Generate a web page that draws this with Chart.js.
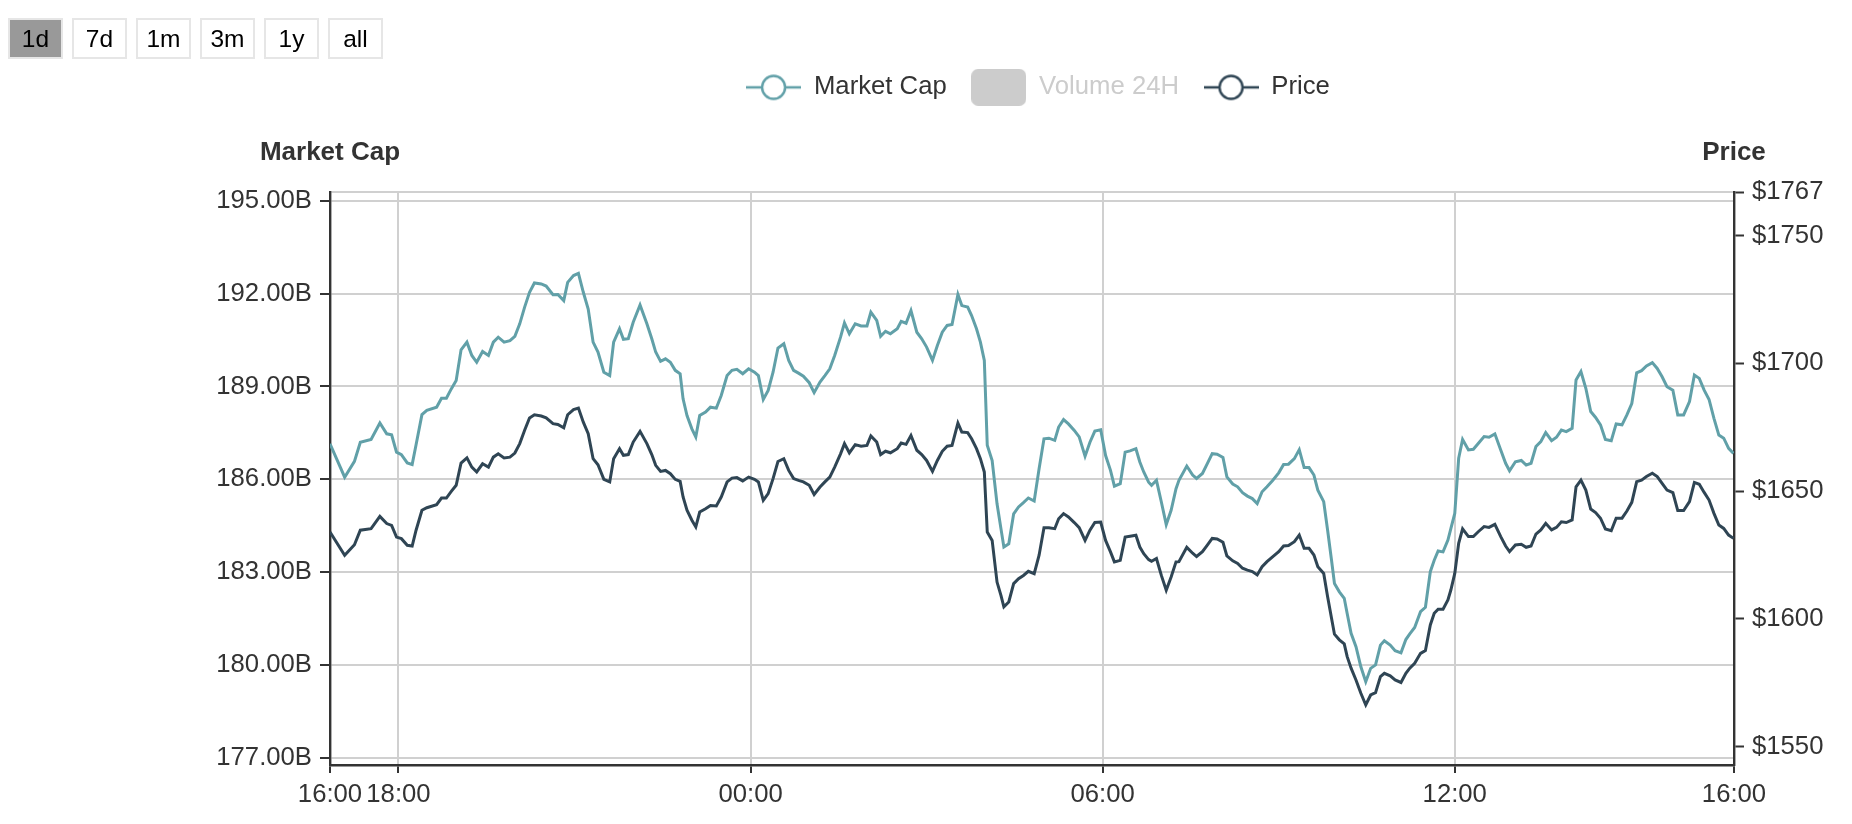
<!DOCTYPE html>
<html>
<head>
<meta charset="utf-8">
<title>Market Cap / Price - 1d</title>
<script src="https://cdn.jsdelivr.net/npm/chart.js@4"></script>
<style>
  body { margin: 0; background: #fff; }
  #wrap { position: relative; width: 1852px; height: 824px; }
  #ranges { position: absolute; left: 8px; top: 18px; display: flex; gap: 9px; z-index: 2; }
  #ranges button {
    box-sizing: border-box; width: 55px; height: 41px; padding: 0;
    border: 2px solid #e6e6e6; background: #fff; color: #000;
    font: 24.5px "Liberation Sans", Arial, sans-serif; cursor: pointer;
  }
  #ranges button.active { background: #999; }
</style>
</head>
<body>
<div id="wrap">
  <div id="ranges">
    <button class="active">1d</button><button>7d</button><button>1m</button><button>3m</button><button>1y</button><button>all</button>
  </div>
  <canvas id="chart" width="1852" height="824"></canvas>
</div>
<script>
// ----- data (minutes after 16:00, market cap in billions, price in USD) -----

const minutes = [
  50, 65, 75, 81, 92, 101, 108, 113, 118, 123, 129, 134, 138, 144, 149, 159, 164, 169, 174, 179,
  184, 190, 195, 200, 206, 212, 217, 222, 228, 234, 239, 244, 249, 254, 259, 266, 271, 278, 283, 289,
  293, 299, 304, 309, 314, 319, 324, 330, 336,
  340, 346, 350, 355, 360, 367, 374, 379, 383, 388, 393, 398, 403, 408, 411, 415, 420, 424, 428, 434,
  439, 445, 450, 456, 461, 466, 472, 478, 484, 488, 493, 498, 503, 508, 514, 519, 524, 529, 534, 540,
  545, 551, 556, 561, 566, 572, 576, 581, 587, 593, 599, 603, 609, 613, 618, 623,
  630, 634, 639, 644, 650, 655, 660, 666, 671, 676, 681, 686, 692, 696, 702, 706, 711, 715, 719, 722,
  727, 732, 736, 739, 744, 749, 754, 759, 764, 770, 775, 780, 785, 791, 795, 800, 805, 811, 816, 822,
  827, 832, 838, 843, 848, 852, 858, 863, 868, 874, 878, 882, 887, 890, 895, 900, 905, 910, 915,
  918, 926, 932, 936, 942, 947, 952, 957, 963, 967, 973, 978, 983, 988, 993, 998, 1003, 1008, 1014, 1020,
  1025, 1030, 1036, 1041, 1046, 1051, 1056, 1060, 1066, 1070, 1074, 1077, 1082, 1087, 1090, 1094, 1099, 1104, 1109, 1114,
  1119, 1124, 1128, 1134, 1139, 1145, 1150, 1154, 1159, 1165, 1170, 1175, 1179, 1183, 1188, 1193, 1196, 1200,
  1204, 1208, 1214, 1219, 1224, 1230, 1235, 1241, 1247, 1252, 1256, 1262, 1268, 1273, 1278, 1283, 1288, 1293, 1299, 1304,
  1309, 1314, 1320, 1324, 1329, 1334, 1339, 1344, 1349, 1354, 1360, 1365, 1371, 1376, 1381, 1386, 1391, 1396, 1402, 1407,
  1412, 1417, 1423, 1428, 1434, 1440, 1445, 1450, 1455, 1460, 1465, 1470, 1475, 1480, 1485
];

const marketCap = [
  187.15, 186.07, 186.58, 187.20, 187.29, 187.82, 187.47, 187.44, 186.88, 186.80, 186.53, 186.48, 187.12, 188.09, 188.23, 188.33, 188.62, 188.62, 188.92, 189.19,
  190.18, 190.43, 190.00, 189.78, 190.13, 190.00, 190.43, 190.59, 190.43, 190.48, 190.62, 191.02, 191.56, 192.04, 192.34, 192.31, 192.24, 191.96, 191.97, 191.77,
  192.36, 192.58, 192.65, 192.04, 191.50, 190.43, 190.11, 189.46, 189.35,
  190.43, 190.86, 190.52, 190.54, 191.07, 191.63, 191.02, 190.54, 190.11, 189.81, 189.89, 189.78, 189.52, 189.41, 188.60, 188.06, 187.63, 187.37, 188.06, 188.17,
  188.33, 188.30, 188.71, 189.35, 189.52, 189.55, 189.41, 189.57, 189.46, 189.35, 188.58, 188.87, 189.46, 190.24, 190.38, 189.84, 189.52, 189.43, 189.33, 189.12,
  188.80, 189.14, 189.35, 189.57, 190.00, 190.59, 191.05, 190.70, 191.02, 190.95, 190.95, 191.40, 191.13, 190.62, 190.78, 190.70,
  190.86, 191.10, 191.04, 191.45, 190.75, 190.54, 190.27, 189.84, 190.32, 190.75, 190.97, 191.00, 191.97, 191.61, 191.56, 191.29, 190.86, 190.43, 189.84, 187.10,
  186.61, 185.21, 184.41, 183.82, 183.92, 184.89, 185.11, 185.25, 185.40, 185.30, 186.34, 187.31, 187.33, 187.26, 187.69, 187.93, 187.79, 187.58, 187.37, 186.75,
  187.20, 187.56, 187.60, 186.77, 186.29, 185.78, 185.86, 186.88, 186.92, 186.99, 186.56, 186.24, 185.91, 185.81, 185.97, 185.27, 184.54, 185.00, 185.70,
  185.97, 186.43, 186.14, 186.03, 186.19, 186.51, 186.83, 186.81, 186.71, 186.08, 185.85, 185.76, 185.57, 185.46, 185.38, 185.22, 185.60, 185.76, 185.97, 186.21,
  186.48, 186.49, 186.67, 186.96, 186.38, 186.38, 186.14, 185.65, 185.28, 184.36, 183.39, 182.64, 182.37, 182.16, 181.67, 181.03, 180.60, 179.95, 179.47, 179.90,
  180.01, 180.65, 180.79, 180.65, 180.47, 180.40, 180.83, 181.01, 181.22, 181.73, 181.87, 183.02, 183.39, 183.69, 183.66, 184.04, 184.41, 184.90,
  186.68, 187.29, 186.95, 186.97, 187.16, 187.38, 187.36, 187.47, 186.95, 186.52, 186.28, 186.57, 186.61, 186.46, 186.52, 187.06, 187.22, 187.51, 187.25, 187.36,
  187.59, 187.54, 187.65, 189.21, 189.48, 188.94, 188.19, 188.00, 187.76, 187.29, 187.25, 187.79, 187.76, 188.08, 188.45, 189.44, 189.51, 189.66, 189.77, 189.58,
  189.31, 188.99, 188.88, 188.08, 188.08, 188.51, 189.37, 189.26, 188.88, 188.58, 187.97, 187.43, 187.33, 187.00, 186.84
];

const price = [
  1634.0, 1624.9, 1629.0, 1634.7, 1635.3, 1640.1, 1637.3, 1636.6, 1632.0, 1631.4, 1628.8, 1628.5, 1634.7, 1642.5, 1643.5, 1644.7, 1647.3, 1647.3, 1649.9, 1652.3,
  1661.0, 1663.0, 1659.4, 1657.5, 1660.7, 1659.4, 1663.3, 1664.6, 1663.0, 1663.3, 1664.9, 1668.6, 1673.8, 1678.6, 1679.9, 1679.4, 1678.7, 1676.4, 1676.1, 1674.8,
  1679.9, 1681.9, 1682.5, 1677.0, 1672.5, 1662.7, 1660.3, 1654.6, 1653.6,
  1662.7, 1666.6, 1664.0, 1664.3, 1669.2, 1673.4, 1668.6, 1664.3, 1660.1, 1657.7, 1658.1, 1656.8, 1654.6, 1653.8, 1647.7, 1642.5, 1638.6, 1636.0, 1641.8, 1643.1,
  1644.4, 1644.2, 1647.7, 1653.6, 1655.1, 1655.3, 1654.0, 1655.5, 1654.6, 1653.6, 1646.4, 1649.0, 1654.9, 1661.6, 1662.7, 1658.1, 1654.9, 1654.2, 1653.6, 1652.3,
  1648.7, 1651.6, 1653.6, 1655.5, 1659.4, 1664.6, 1668.6, 1665.0, 1668.2, 1667.6, 1667.9, 1671.6, 1669.2, 1664.3, 1665.6, 1665.0,
  1666.6, 1668.8, 1668.3, 1671.8, 1666.0, 1664.3, 1662.0, 1657.7, 1662.0, 1665.6, 1667.6, 1667.9, 1676.6, 1673.1, 1672.9, 1670.5, 1666.6, 1662.7, 1657.5, 1634.0,
  1630.7, 1614.4, 1609.2, 1604.7, 1606.6, 1613.8, 1615.7, 1617.0, 1618.6, 1617.7, 1624.9, 1635.7, 1635.7, 1635.3, 1639.2, 1641.2, 1639.9, 1637.7, 1635.7, 1630.7,
  1634.7, 1637.7, 1637.9, 1630.7, 1626.2, 1622.3, 1622.9, 1632.0, 1632.3, 1632.7, 1628.1, 1625.5, 1623.2, 1622.5, 1623.6, 1617.0, 1611.2, 1616.4, 1622.3,
  1622.4, 1628.0, 1625.7, 1624.4, 1626.3, 1628.9, 1631.5, 1631.3, 1630.0, 1624.6, 1622.7, 1621.7, 1619.8, 1619.1, 1618.5, 1617.2, 1620.4, 1622.4, 1624.4, 1626.3,
  1628.5, 1628.7, 1630.2, 1632.8, 1627.6, 1627.6, 1625.0, 1620.4, 1617.8, 1608.7, 1600.2, 1594.0, 1591.8, 1590.2, 1585.2, 1580.7, 1576.1, 1570.9, 1566.3, 1570.2,
  1571.1, 1577.4, 1578.7, 1577.7, 1576.1, 1575.1, 1578.7, 1580.7, 1582.6, 1586.5, 1587.6, 1597.6, 1602.2, 1603.8, 1603.8, 1607.4, 1611.3, 1617.8,
  1629.6, 1635.2, 1632.2, 1632.2, 1634.1, 1636.1, 1635.8, 1637.0, 1632.2, 1628.5, 1626.3, 1628.9, 1629.2, 1628.0, 1628.5, 1633.2, 1634.8, 1637.4, 1634.8, 1635.8,
  1638.0, 1637.7, 1638.7, 1651.7, 1654.3, 1650.4, 1643.0, 1641.6, 1639.4, 1635.2, 1634.5, 1639.4, 1639.4, 1642.2, 1645.6, 1653.7, 1654.3, 1655.7, 1657.0, 1655.7,
  1653.0, 1650.4, 1649.4, 1642.4, 1642.4, 1645.9, 1653.4, 1652.7, 1649.5, 1646.5, 1641.3, 1636.7, 1635.4, 1632.8, 1631.5
];

// axis ranges and ticks
const timeMin = 50, timeMax = 1485.5;          // 16:50 .. 16:45 next day
const hourTicks = [120, 480, 840, 1200];        // 18:00, 00:00, 06:00, 12:00
const capMin = 176.78, capMax = 195.27;
const capTicks = [177, 180, 183, 186, 189, 192, 195];
const priceMin = 1542.8, priceMax = 1767;
const priceTicks = [1550, 1600, 1650, 1700, 1750, 1767];

const FONT = '"Liberation Sans", Arial, sans-serif';
const CAP_COLOR = '#61a0a8';
const PRICE_COLOR = '#2f4554';

// ----- legend markers -----
function lineMarker(color) {
  const c = document.createElement('canvas');
  c.width = 55; c.height = 28;
  const g = c.getContext('2d');
  g.strokeStyle = color; g.lineWidth = 2.4;
  g.beginPath(); g.moveTo(0, 14); g.lineTo(55, 14); g.stroke();
  g.beginPath(); g.arc(27.5, 14, 11.5, 0, Math.PI * 2);
  g.fillStyle = '#fff'; g.fill(); g.stroke();
  return c;
}

function boxMarker(color) {
  const c = document.createElement('canvas');
  c.width = 55; c.height = 37;
  const g = c.getContext('2d');
  g.fillStyle = color;
  g.beginPath(); g.roundRect(0, 0, 55, 37, 7); g.fill();
  return c;
}

const markers = [lineMarker(CAP_COLOR), boxMarker('#ccc'), lineMarker(PRICE_COLOR)];
const legendColors = ['#333', '#ccc', '#333'];

// nudge the legend a little right, the left axis box can't get any narrower
const legendNudge = {
  id: 'legendNudge',
  afterLayout(chart) {
    chart.legend.left += 5;
    chart.legend.right += 5;
  }
};

// axis titles sit centred over each y axis line
const axisTitles = {
  id: 'axisTitles',
  afterDraw(chart) {
    const { ctx, chartArea } = chart;
    ctx.save();
    ctx.font = `bold 26px ${FONT}`;
    ctx.fillStyle = '#333';
    ctx.textAlign = 'center';
    ctx.fillText('Market Cap', chartArea.left, 153);
    ctx.fillText('Price', chartArea.right, 153);
    ctx.restore();
  }
};

const hourLabel = v => String((16 + Math.floor(v / 60)) % 24).padStart(2, '0') + ':00';

new Chart(document.getElementById('chart'), {
  type: 'line',
  data: {
    datasets: [
      {
        label: 'Market Cap',
        data: minutes.map((t, i) => ({ x: t, y: marketCap[i] })),
        yAxisID: 'y',
        borderColor: CAP_COLOR,
        borderWidth: 3,
        pointRadius: 0,
        tension: 0,
      },
      {
        label: 'Volume 24H',
        data: [],
        yAxisID: 'y',
        hidden: true,
      },
      {
        label: 'Price',
        data: minutes.map((t, i) => ({ x: t, y: price[i] })),
        yAxisID: 'y1',
        borderColor: PRICE_COLOR,
        borderWidth: 3,
        pointRadius: 0,
        tension: 0,
      }
    ]
  },
  options: {
    responsive: false,
    animation: false,
    devicePixelRatio: 1,
    layout: { padding: { left: 214, top: 50, right: 0, bottom: 0 } },
    plugins: {
      tooltip: { enabled: false },
      legend: {
        position: 'top',
        onClick: () => {},
        labels: {
          usePointStyle: true,
          pointStyleWidth: 55,
          padding: 24.5,
          font: { family: FONT, size: 25.7 },
          generateLabels: chart => chart.data.datasets.map((ds, i) => ({
            text: ds.label,
            datasetIndex: i,
            hidden: false,
            pointStyle: markers[i],
            fontColor: legendColors[i],
            lineWidth: 0,
            strokeStyle: 'transparent',
            fillStyle: 'transparent',
          })),
        }
      }
    },
    scales: {
      x: {
        type: 'linear',
        position: 'bottom',
        min: timeMin,
        max: timeMax,
        afterBuildTicks: s => { s.ticks = [timeMin, ...hourTicks, timeMax].map(v => ({ value: v })); },
        afterFit: s => { s.height = 59; },
        ticks: {
          autoSkip: false, maxRotation: 0, padding: 6,
          color: '#333', font: { family: FONT, size: 25.7 },
          callback: v => hourLabel(v),
        },
        grid: { color: '#d0d0d0', lineWidth: 2, tickColor: '#333', tickLength: 8, tickWidth: 2 },
        border: { color: '#333', width: 2.4 },
      },
      gap: {
        type: 'linear',
        position: 'top',
        axis: 'x',
        display: true,
        ticks: { display: false },
        grid: { display: false },
        border: { display: false },
        afterFit: s => { s.height = 82; },
      },
      y: {
        type: 'linear',
        position: 'left',
        min: capMin,
        max: capMax,
        afterBuildTicks: s => { s.ticks = [...capTicks, capMax].map(v => ({ value: v })); },
        afterFit: s => { s.width = 116; },
        ticks: {
          padding: 8, color: '#333', font: { family: FONT, size: 25.7 },
          callback: v => (v === capMax ? '' : v.toFixed(2) + 'B'),
        },
        grid: {
          color: '#d0d0d0', lineWidth: 2, tickLength: 10, tickWidth: 2,
          tickColor: c => (c.tick && c.tick.value === capMax ? 'rgba(0,0,0,0)' : '#333'),
        },
        border: { color: '#333', width: 2.4 },
      },
      y1: {
        type: 'linear',
        position: 'right',
        min: priceMin,
        max: priceMax,
        afterBuildTicks: s => { s.ticks = priceTicks.map(v => ({ value: v })); },
        afterFit: s => { s.width = 118; },
        ticks: {
          padding: 8, color: '#333', font: { family: FONT, size: 25.7 },
          callback: v => '$' + v,
        },
        grid: { drawOnChartArea: false, tickColor: '#333', tickLength: 10, tickWidth: 2 },
        border: { color: '#333', width: 2.4 },
      }
    }
  },
  plugins: [legendNudge, axisTitles]
});
</script>
</body>
</html>
